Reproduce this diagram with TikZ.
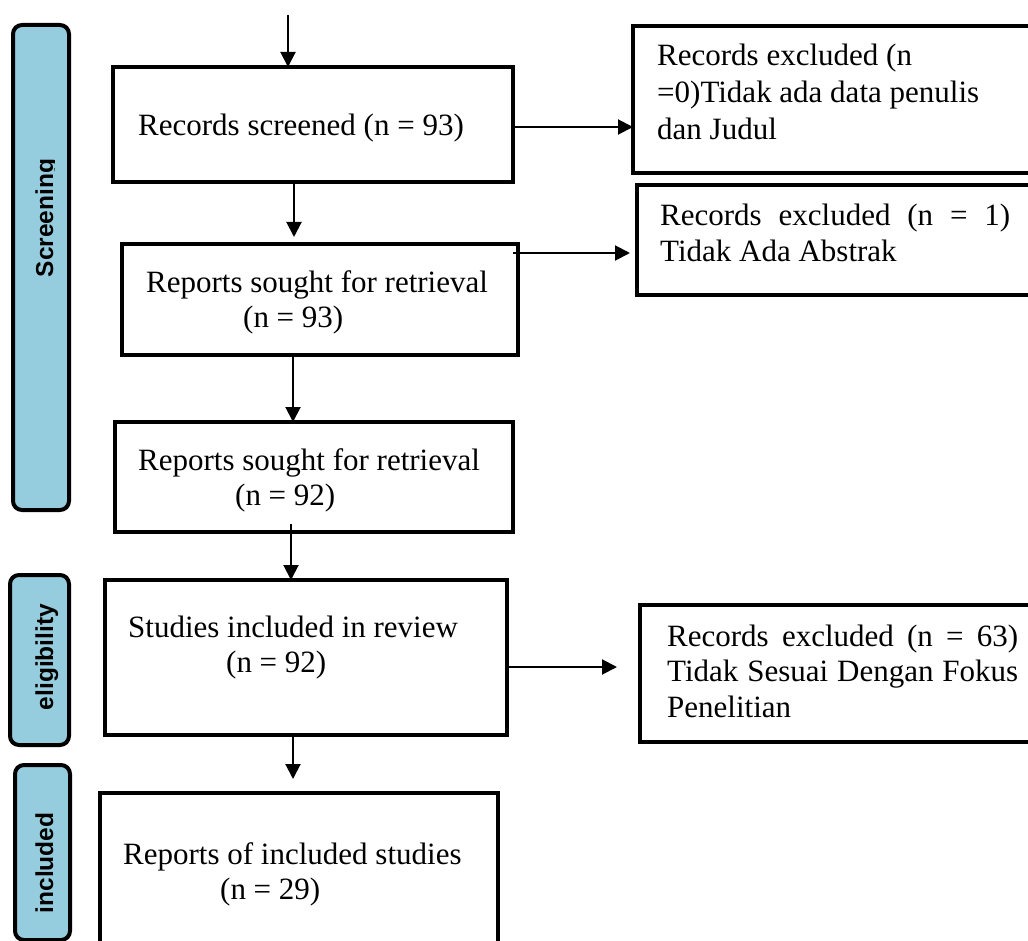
\documentclass[tikz,border=0pt]{standalone}
\usepackage{fontspec}
\setmainfont{Liberation Serif}
\newfontfamily\labfont{Liberation Sans}
\usetikzlibrary{arrows.meta}
\definecolor{sideblue}{RGB}{150,205,222}
\begin{document}
\begin{tikzpicture}[x=1pt,y=-1pt,
  box/.style={draw, line width=4.5pt, rectangle, inner sep=0pt, outer sep=0pt},
  side/.style={draw, line width=4pt, rounded corners=9pt, fill=sideblue, inner sep=0pt, outer sep=0pt},
  sidetext/.style={rotate=90, anchor=base, font=\labfont\bfseries\fontsize{24.5}{28}\selectfont, inner sep=0pt},
  txt/.style={font=\fontsize{31}{35.5}\selectfont, inner sep=0pt, align=left, anchor=base west},
  jtxt/.style={font=\fontsize{31}{35.5}\selectfont, inner sep=0pt, align=justify, anchor=base west},
  arr/.style={line width=2pt, -{Triangle[length=15pt,width=15pt]}}]
\useasboundingbox (0,0) rectangle (1028,941);

% side labels
\node[side, minimum width=56pt, minimum height=485pt] (s1) at (41,267.5) {};
\begin{scope}
  \clip (0,0) rectangle (54.5,941);
  \node[sidetext] (s1t) at (53,218) {Screening};
\end{scope}
\node[side, minimum width=59pt, minimum height=170pt] (s2) at (39.5,660) {};
\node[sidetext] (s2t) at (53,657) {eligibility};
\node[side, minimum width=55pt, minimum height=175pt] (s3) at (42.5,852.5) {};
\node[sidetext] (s3t) at (53,863) {included};

% main boxes
\node[box, minimum width=400pt, minimum height=115pt] (b1) at (313,124.5) {};
\node[box, minimum width=396pt, minimum height=111pt] (b2) at (320,299.5) {};
\node[box, minimum width=398pt, minimum height=110pt] (b3) at (314,477) {};
\node[box, minimum width=402pt, minimum height=155pt] (b4) at (306,657.5) {};
\node[box, minimum width=398pt, minimum height=207pt] (b5) at (299,896.5) {};

% right boxes
\node[box, minimum width=412pt, minimum height=147pt] (r1) at (839,99.5) {};
\node[box, minimum width=408pt, minimum height=110pt] (r2) at (841,240) {};
\node[box, minimum width=405pt, minimum height=137pt] (r3) at (842.5,673.5) {};

% texts (multi-line left-aligned nodes: base = last line)
\node[txt] (b1t) at (138,136) {Records screened (n = 93)};
\node[txt] (b2t) at (146,327.5) {Reports sought for retrieval\\\hspace*{97pt}(n = 93)};
\node[txt] (b3t) at (138,505.5) {Reports sought for retrieval\\\hspace*{97pt}(n = 92)};
\node[txt] (b4t) at (128,672.5) {Studies included in review\\\hspace*{98pt}(n = 92)};
\node[txt] (b5t) at (123,899.5) {Reports of included studies\\\hspace*{97pt}(n = 29)};
\node[txt, font=\fontsize{31}{37}\selectfont] (r1t) at (657,140) {Records excluded (n\\=0)Tidak ada data penulis\\dan Judul};
\node[jtxt, text width=350pt] (r2t) at (660,226) {Records excluded (n = 1)\linebreak Tidak Ada Abstrak};
\node[jtxt, text width=351pt] (r3t) at (667,646) {Records excluded (n = 63)\linebreak Tidak Sesuai Dengan Fokus\linebreak Penelitian};

% connectors
\coordinate (top) at (288,15);
\draw[arr] (top) -- (top |- b1.north);
\draw[arr, shorten >=7pt] ([xshift=-19pt]b1.south) -- ([xshift=-26pt]b2.north);
\draw[arr] ([xshift=-27pt]b2.south) -- ([xshift=-21pt]b3.north);
\draw[arr] ([xshift=-23pt,yshift=8pt]b3.south) -- ([xshift=-15pt]b4.north);
\draw[arr, shorten >=14pt] ([xshift=-13pt]b4.south) -- ([xshift=-6pt]b5.north);
\coordinate (b1o) at ([yshift=-2.5pt]b1.east);
\draw[arr] (b1o) -- (b1o -| r1.west);
\coordinate (b2o) at ([xshift=-5pt,yshift=46.5pt]b2.east);
\draw[arr, shorten >=7pt] (b2o) -- (b2o -| r2.west);
\coordinate (b4o) at ([yshift=-9.5pt]b4.east);
\draw[arr, shorten >=23pt] (b4o) -- (b4o -| r3.west);
\end{tikzpicture}
\end{document}
